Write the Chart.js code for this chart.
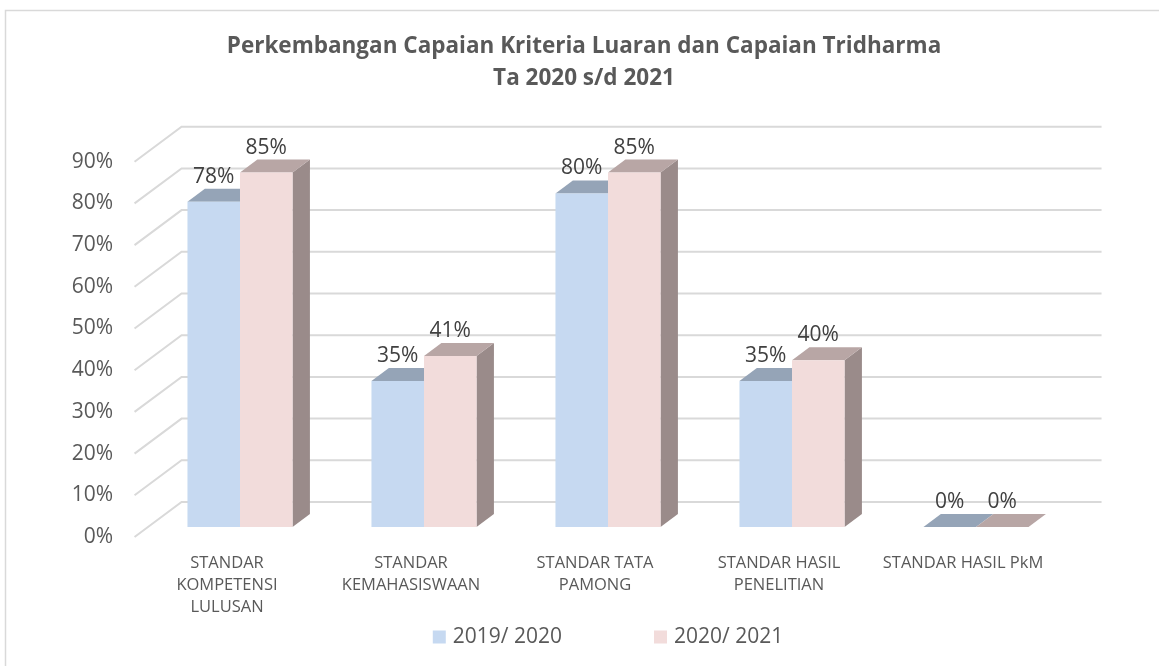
<!DOCTYPE html>
<html><head><meta charset="utf-8">
<script src="https://cdn.jsdelivr.net/npm/chart.js@4"></script>
<style>html,body{margin:0;padding:0;background:#fff;} #wrap{width:1159px;height:666px;}</style>
</head><body><div id="wrap"><canvas id="c" width="1159" height="666"></canvas></div>
<script>
// ---- data ----
const categories = [["STANDAR","KOMPETENSI","LULUSAN"],["STANDAR","KEMAHASISWAAN"],["STANDAR TATA","PAMONG"],["STANDAR HASIL","PENELITIAN"],"STANDAR HASIL PkM"];
const seriesNames = ["2019/ 2020","2020/ 2021"];
const values2019 = [78,35,80,35,0];
const values2020 = [85,41,85,40,0];
const yTicks = [0,10,20,30,40,50,60,70,80,90];
const titleLines = ["Perkembangan Capaian Kriteria Luaran dan Capaian Tridharma","Ta 2020 s/d 2021"];

// ---- style ----
const FRONT = ['#C6D9F1','#F2DCDB'];
const TOP = ['#95A4B7','#B8A6A5'];
const SIDE = ['#7F8B99','#9A8B8A'];
const DX = 47, DY = 35, F0 = 0.286, BD = 0.37;
const FONT = '"Open Sans"';

const threeD = {
  id:'threeD',
  beforeDraw(chart){
    const ctx = chart.ctx;
    ctx.save();
    ctx.strokeStyle = '#D9D9D9'; ctx.lineWidth = 1.5;
    ctx.beginPath(); ctx.moveTo(5.5, chart.height); ctx.lineTo(5.5, 10.5); ctx.lineTo(chart.width, 10.5); ctx.stroke();
    ctx.restore();
  },
  beforeDatasetsDraw(chart){
    const ctx = chart.ctx, ys = chart.scales.y, a = chart.chartArea;
    const fx = -F0*DX, fy = F0*DY, bx = (1-F0)*DX, by = -(1-F0)*DY;
    ctx.save();
    ctx.strokeStyle = '#D9D9D9'; ctx.lineWidth = 2;
    ys.ticks.forEach(t => {
      const py = ys.getPixelForValue(t.value);
      ctx.beginPath();
      ctx.moveTo(a.left+fx, py+fy); ctx.lineTo(a.left+bx, py+by); ctx.lineTo(a.right+bx, py+by);
      ctx.stroke();
    });
    const dx = BD*DX, dy = -BD*DY;
    chart.data.datasets.forEach((ds,i) => {
      const meta = chart.getDatasetMeta(i);
      meta.data.forEach(el => {
        const p = el.getProps(['x','y','base','width'], true);
        const L = p.x - p.width/2, R = p.x + p.width/2, top = p.y, base = p.base;
        ctx.fillStyle = SIDE[i];
        ctx.beginPath(); ctx.moveTo(R,top); ctx.lineTo(R+dx,top+dy); ctx.lineTo(R+dx,base+dy); ctx.lineTo(R,base); ctx.closePath(); ctx.fill();
        ctx.fillStyle = TOP[i];
        ctx.beginPath(); ctx.moveTo(L,top); ctx.lineTo(R,top); ctx.lineTo(R+dx,top+dy); ctx.lineTo(L+dx,top+dy); ctx.closePath(); ctx.fill();
      });
    });
    ctx.restore();
  },
  afterDatasetsDraw(chart){
    const ctx = chart.ctx;
    ctx.save();
    ctx.font = '21px ' + FONT; ctx.fillStyle = '#404040'; ctx.textAlign = 'center'; ctx.textBaseline = 'middle';
    chart.data.datasets.forEach((ds,i) => {
      chart.getDatasetMeta(i).data.forEach((el,j) => {
        const p = el.getProps(['x','y'], true);
        ctx.fillText(ds.data[j] + '%', p.x, p.y - 25);
      });
    });
    ctx.restore();
  },
  afterDraw(chart){
    const ctx = chart.ctx, a = chart.chartArea;
    ctx.save();
    ctx.font = '21px ' + FONT; ctx.textBaseline = 'middle'; ctx.textAlign = 'left';
    const box = 13, tgap = 7, gap = 92;
    const names = chart.data.datasets.map(d => d.label);
    const widths = names.map(n => box + tgap + ctx.measureText(n).width);
    const total = widths.reduce((s,w)=>s+w,0) + gap*(names.length-1);
    let x = (a.left + a.right)/2 - total/2;
    const cy = chart.height - 29;
    names.forEach((n,i) => {
      ctx.fillStyle = FRONT[i]; ctx.fillRect(x, cy - box/2, box, box);
      ctx.fillStyle = '#595959'; ctx.fillText(n, x + box + tgap, cy);
      x += widths[i] + gap;
    });
    ctx.restore();
  }
};

new Chart(document.getElementById('c'), {
  type:'bar',
  data:{
    labels: categories,
    datasets:[
      {label: seriesNames[0], data: values2019, backgroundColor: FRONT[0], borderWidth:0},
      {label: seriesNames[1], data: values2020, backgroundColor: FRONT[1], borderWidth:0}
    ]
  },
  options:{
    responsive:false, animation:false,
    layout:{padding:{left:9,right:0,top:0,bottom:0}},
    datasets:{bar:{categoryPercentage:0.571, barPercentage:1}},
    plugins:{
      legend:{display:false}, tooltip:{enabled:false},
      title:{display:true, text:titleLines, color:'#595959',
        font:{family:FONT, size:22.5, weight:'bold', lineHeight:1.422},
        padding:{top:31, bottom:56.7}}
    },
    scales:{
      x:{
        grid:{display:false, drawTicks:false}, border:{display:false},
        ticks:{font:{family:FONT, size:16.5, lineHeight:1.33}, color:'#595959', padding:25, labelOffset:-13, maxRotation:0, minRotation:0, autoSkip:false},
        afterFit: s => { s.height = 139; }
      },
      y:{
        min:0, max:90,
        grid:{display:false, drawTicks:false}, border:{display:false},
        afterBuildTicks: s => { s.ticks = yTicks.map(v => ({value:v})); },
        ticks:{font:{family:FONT, size:21}, color:'#595959', padding:35, labelOffset:10, callback: v => v + '%'},
        afterFit: s => { s.width = 139; }
      },
      y2:{
        position:'right', display:true,
        grid:{display:false, drawTicks:false}, border:{display:false},
        ticks:{display:false},
        afterFit: s => { s.width = 91; }
      }
    }
  },
  plugins:[threeD]
});
</script></body></html>
